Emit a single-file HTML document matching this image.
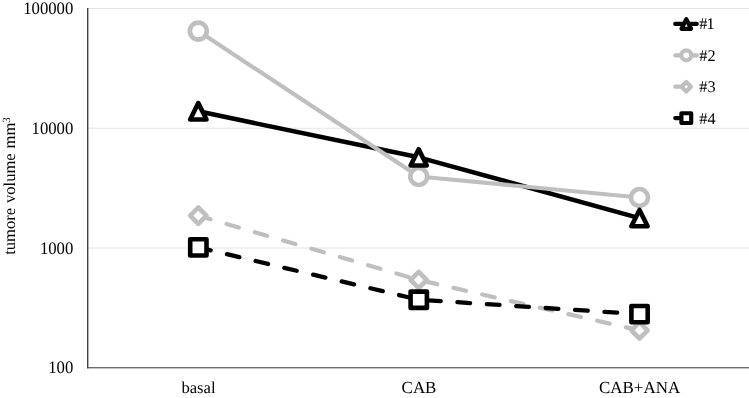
<!DOCTYPE html>
<html><head><meta charset="utf-8"><title>tumore volume chart</title>
<style>
html,body{margin:0;padding:0;background:#fff;}
body{width:749px;height:398px;overflow:hidden;}
svg{display:block;}
text{font-family:"Liberation Serif","Times New Roman",serif;font-size:16.6px;fill:#000;text-rendering:geometricPrecision;}
</style></head><body>
<svg width="749" height="398" viewBox="0 0 749 398">
<rect width="749" height="398" fill="#fff"/>
<line x1="88" y1="8.5" x2="749" y2="8.5" stroke="#e4e4e4" stroke-width="1"/>
<line x1="88" y1="128.2" x2="749" y2="128.2" stroke="#e4e4e4" stroke-width="1"/>
<line x1="88" y1="248.0" x2="749" y2="248.0" stroke="#e4e4e4" stroke-width="1"/>
<rect x="87" y="8" width="1.4" height="360.3" fill="#404040"/>
<rect x="87" y="367.25" width="662" height="1.05" fill="#404040"/>
<text transform="translate(73.3,13.9) scale(1,1.055)" text-anchor="end" style="font-size:16.7px">100000</text>
<text transform="translate(73.3,134.2) scale(1,1.055)" text-anchor="end" style="font-size:16.7px">10000</text>
<text transform="translate(73.3,253.6) scale(1,1.055)" text-anchor="end" style="font-size:16.7px">1000</text>
<text transform="translate(73.3,373.4) scale(1,1.055)" text-anchor="end" style="font-size:16.7px">100</text>
<text x="198.5" y="393.0" text-anchor="middle" style="font-size:16.6px">basal</text>
<text x="419.0" y="393.0" text-anchor="middle" style="font-size:16.95px">CAB</text>
<text x="639.6" y="393.0" text-anchor="middle" style="font-size:16.95px">CAB+ANA</text>
<text transform="translate(14.8,254.8) rotate(-90)" x="0" y="0" word-spacing="0.6">tumore volume mm<tspan dy="-4.9" font-size="11">3</tspan></text>
<polyline points="198.3,111.3 418.7,157.3 639.5,218.1" fill="none" stroke="#000" stroke-width="4.5" stroke-linecap="round" stroke-linejoin="round"/>
<polyline points="198.3,31.1 418.7,176.5 639.5,197.5" fill="none" stroke="#bfbfbf" stroke-width="4.2" stroke-linecap="round" stroke-linejoin="round"/>
<circle cx="198.3" cy="31.1" r="8.45" fill="#fff" stroke="#bfbfbf" stroke-width="4.6"/>
<circle cx="418.7" cy="176.5" r="8.45" fill="#fff" stroke="#bfbfbf" stroke-width="4.6"/>
<circle cx="639.5" cy="197.5" r="8.45" fill="#fff" stroke="#bfbfbf" stroke-width="4.6"/>
<polygon points="198.3,103.1 206.5,119.5 190.2,119.5" fill="#fff" stroke="#000" stroke-width="4.6" stroke-linejoin="round"/>
<polygon points="418.7,149.2 426.8,165.5 410.6,165.5" fill="#fff" stroke="#000" stroke-width="4.6" stroke-linejoin="round"/>
<polygon points="639.5,209.9 647.6,226.2 631.4,226.2" fill="#fff" stroke="#000" stroke-width="4.6" stroke-linejoin="round"/>
<polyline points="198.3,215.7 418.7,280.0 639.5,330.4" fill="none" stroke="#bfbfbf" stroke-width="4.3" stroke-linecap="round" stroke-linejoin="round" stroke-dasharray="12.7 16.78"/>
<polygon points="198.3,207.5 206.5,215.7 198.3,223.8 190.2,215.7" fill="#fff" stroke="#bfbfbf" stroke-width="4.6" stroke-linejoin="round"/>
<polygon points="418.7,271.9 426.8,280.0 418.7,288.1 410.6,280.0" fill="#fff" stroke="#bfbfbf" stroke-width="4.6" stroke-linejoin="round"/>
<polygon points="639.5,322.2 647.6,330.4 639.5,338.5 631.4,330.4" fill="#fff" stroke="#bfbfbf" stroke-width="4.6" stroke-linejoin="round"/>
<polyline points="198.3,247.4 418.7,299.7 639.5,314.1" fill="none" stroke="#000" stroke-width="4.3" stroke-linecap="round" stroke-linejoin="round" stroke-dasharray="12.7 16.78"/>
<rect x="190.2" y="239.2" width="16.3" height="16.3" fill="#fff" stroke="#000" stroke-width="4.6" stroke-linejoin="round"/>
<rect x="410.6" y="291.6" width="16.3" height="16.3" fill="#fff" stroke="#000" stroke-width="4.6" stroke-linejoin="round"/>
<rect x="631.4" y="306.0" width="16.3" height="16.3" fill="#fff" stroke="#000" stroke-width="4.6" stroke-linejoin="round"/>
<line x1="675.3" y1="23.9" x2="696.7" y2="23.9" stroke="#000" stroke-width="4.3" stroke-linecap="round"/>
<polygon points="686.3,19.2 691.1,28.8 681.5,28.8" fill="#fff" stroke="#000" stroke-width="4.15" stroke-linejoin="round"/>
<line x1="675.3" y1="55.3" x2="696.7" y2="55.3" stroke="#bfbfbf" stroke-width="4.3" stroke-linecap="round"/>
<circle cx="686.3" cy="55.3" r="5.00" fill="#fff" stroke="#bfbfbf" stroke-width="4.15"/>
<line x1="675.3" y1="86.7" x2="696.7" y2="86.7" stroke="#bfbfbf" stroke-width="4.3" stroke-linecap="round" stroke-dasharray="12.7 16.78"/>
<polygon points="686.3,82.0 691.0,86.7 686.3,91.5 681.5,86.7" fill="#fff" stroke="#bfbfbf" stroke-width="4.15" stroke-linejoin="round"/>
<line x1="675.3" y1="118.1" x2="696.7" y2="118.1" stroke="#000" stroke-width="4.3" stroke-linecap="round" stroke-dasharray="12.7 16.78"/>
<rect x="681.4" y="113.2" width="9.8" height="9.8" fill="#fff" stroke="#000" stroke-width="4.15" stroke-linejoin="round"/>
<text x="699.3" y="29.4" style="font-size:16.3px">#<tspan dx="-1">1</tspan></text>
<text x="699.3" y="60.8" style="font-size:16.3px">#2</text>
<text x="699.3" y="92.2" style="font-size:16.3px">#3</text>
<text x="699.3" y="123.6" style="font-size:16.3px">#4</text>
</svg></body></html>
